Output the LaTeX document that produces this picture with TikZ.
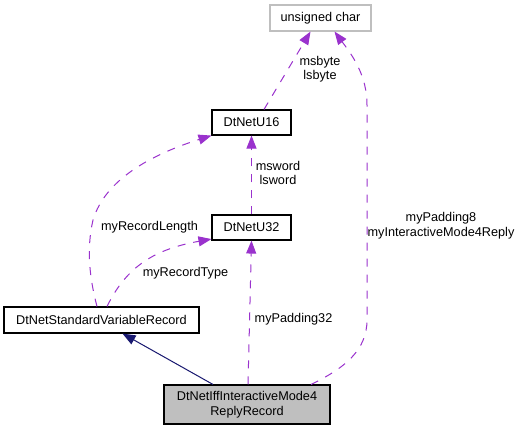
\documentclass[tikz,border=0pt]{standalone}
\usepackage{fontspec}
\setmainfont{Liberation Sans}
\usetikzlibrary{arrows.meta}
\definecolor{usecol}{HTML}{9A32CD}
\definecolor{inhcol}{HTML}{191970}
\definecolor{boxgray}{HTML}{BFBFBF}
\tikzset{
  cls/.style={draw=black, line width=1.1pt, inner sep=0pt, font=\fontsize{12.7}{14.5}\selectfont, align=center},
  extcls/.style={cls, draw=boxgray},
  usedby/.style={draw=usecol, line width=1pt, dash pattern=on 8pt off 8pt, -{Triangle[width=10pt,length=13pt]}, fill=none},
  inherit/.style={draw=inhcol, line width=1pt, -{Triangle[width=10pt,length=13pt]}},
  lbl/.style={font=\fontsize{12.7}{14.5}\selectfont, align=center, inner sep=0pt}
}
\begin{document}
\begin{tikzpicture}[x=1pt, y=-1pt]
		%%%%% START %%%%%
		\useasboundingbox (0,0) rectangle (532,432);
		
		\node[extcls, minimum width=101pt, minimum height=26pt] (uchar) at (320.5, 18) {unsigned char};
		\node[cls, minimum width=79pt, minimum height=25pt] (u16) at (251.5, 122.5) {DtNetU16};
		\node[cls, minimum width=79pt, minimum height=25pt] (u32) at (251.5, 227.5) {DtNetU32};
		\node[cls, minimum width=195pt, minimum height=26pt] (svr) at (101.5, 320) {DtNetStandardVariableRecord};
		\node[cls, fill=boxgray, minimum width=166pt, minimum height=39pt] (main) at (247, 404.5) {DtNetIffInteractiveMode4\\ReplyRecord};
		
		\draw[usedby] ([xshift=12.5pt]u16.north) -- ([xshift=-10pt]uchar.south);
		\node[lbl] (lbyte) at (320, 69) {msbyte\\lsbyte};
		
		\draw[usedby] ([xshift=64pt]main.north) .. controls (345,368) and (367,350) .. (367,320) -- (367,105) .. controls (367,75) and (352,55) .. ([xshift=14pt]uchar.south);
		\node[lbl] (lpad8) at (441, 225.5) {myPadding8\\myInteractiveMode4Reply};
		
		\draw[usedby] (u32.north) -- (u16.south);
		\node[lbl] (lword) at (278, 173) {msword\\lsword};
		
		\draw[usedby] ([xshift=-4.5pt]svr.north) .. controls (90,280) and (86,250) .. (93,220) .. controls (105,180) and (150,155) .. (u16.south west);
		\node[lbl] (llen) at (149.5, 227) {myRecordLength};
		
		\draw[usedby] ([xshift=5.5pt]svr.north) .. controls (125,270) and (150,250) .. ([yshift=1.5pt]u32.south west);
		\node[lbl] (ltype) at (185.5, 273) {myRecordType};
		
		\draw[usedby] ([xshift=1pt]main.north) -- (u32.south);
		\node[lbl] (lpad32) at (293.5, 319) {myPadding32};
		
		\draw[inherit] ([xshift=-34pt]main.north) -- ([xshift=21pt]svr.south);
		%%%%% END %%%%%
	\end{tikzpicture}
\end{document}
